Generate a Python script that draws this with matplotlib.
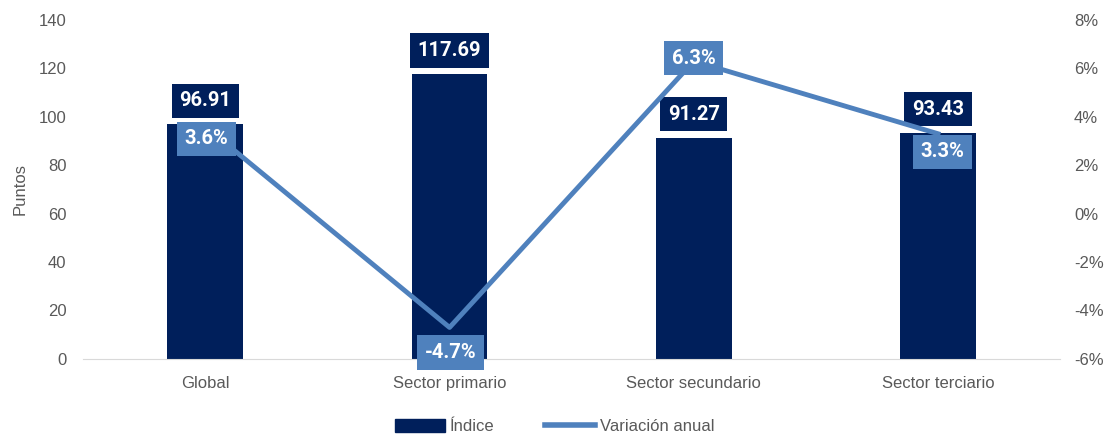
import matplotlib.pyplot as plt
from matplotlib.lines import Line2D
from matplotlib.patches import Patch

categorias = ["Global", "Sector primario", "Sector secundario", "Sector terciario"]
indice = [96.91, 117.69, 91.27, 93.43]
variacion = [3.6, -4.7, 6.3, 3.3]

# offsets (points) of the percentage labels relative to the line point
offs_var = [(1, -9), (1, -18), (0, 2), (3, -13)]

azul_osc = "#001f5b"
azul = "#4f81bd"
gris = "#595959"

plt.rcParams["font.family"] = ["Liberation Sans", "DejaVu Sans"]

fig = plt.figure(figsize=(11.09, 4.34), dpi=100)
ax = fig.add_axes([0.075, 0.173, 0.881, 0.781])
ax2 = ax.twinx()

x = list(range(len(categorias)))
ax.bar(x, indice, width=0.31, color=azul_osc, zorder=2)
ax.set_xlim(-0.5, 3.5)
ax.set_ylim(0, 140)
ax.set_yticks(range(0, 141, 20))
ax.set_xticks(x)
ax.set_xticklabels(categorias)
ax.set_ylabel("Puntos", color=gris, fontsize=12, labelpad=8)

ax2.plot(x, variacion, color=azul, lw=3.5, zorder=3)
ax2.set_ylim(-6, 8)
ax2.set_yticks(range(-6, 9, 2))
ax2.set_yticklabels([f"{v}%" for v in range(-6, 9, 2)])

for a in (ax, ax2):
    for s in a.spines.values():
        s.set_visible(False)
    a.tick_params(length=0, labelsize=12, labelcolor=gris)
ax.tick_params(axis="y", pad=12)
ax2.tick_params(axis="y", pad=10)
ax.spines["bottom"].set_visible(True)
ax.spines["bottom"].set_color("#d9d9d9")
ax.tick_params(axis="x", pad=12)

for xi, v in zip(x, indice):
    ax.annotate(f"{v:.2f}", xy=(xi, v), xytext=(0, 17), textcoords="offset points",
                ha="center", va="center", color="white", fontsize=14.5, fontweight="bold",
                family=["Roboto", "DejaVu Sans"], zorder=5,
                bbox=dict(boxstyle="square,pad=0.38", fc=azul_osc, ec="none"))

for xi, v, off in zip(x, variacion, offs_var):
    ax2.annotate(f"{v:.1f}%", xy=(xi, v), xytext=off, textcoords="offset points",
                 ha="center", va="center", color="white", fontsize=14.5, fontweight="bold",
                 family=["Roboto", "DejaVu Sans"], zorder=6,
                 bbox=dict(boxstyle="square,pad=0.38", fc=azul, ec="none"))

handles = [Patch(color=azul_osc), Line2D([0], [0], color=azul, lw=4)]
fig.legend(handles, ["Índice", "Variación anual"], loc="lower center",
           bbox_to_anchor=(0.5, -0.035), ncol=2, frameon=False, fontsize=12,
           labelcolor=gris, handlelength=3.0, handleheight=0.8,
           columnspacing=3.0, handletextpad=0.3)

fig.savefig("out.png", dpi=100)
